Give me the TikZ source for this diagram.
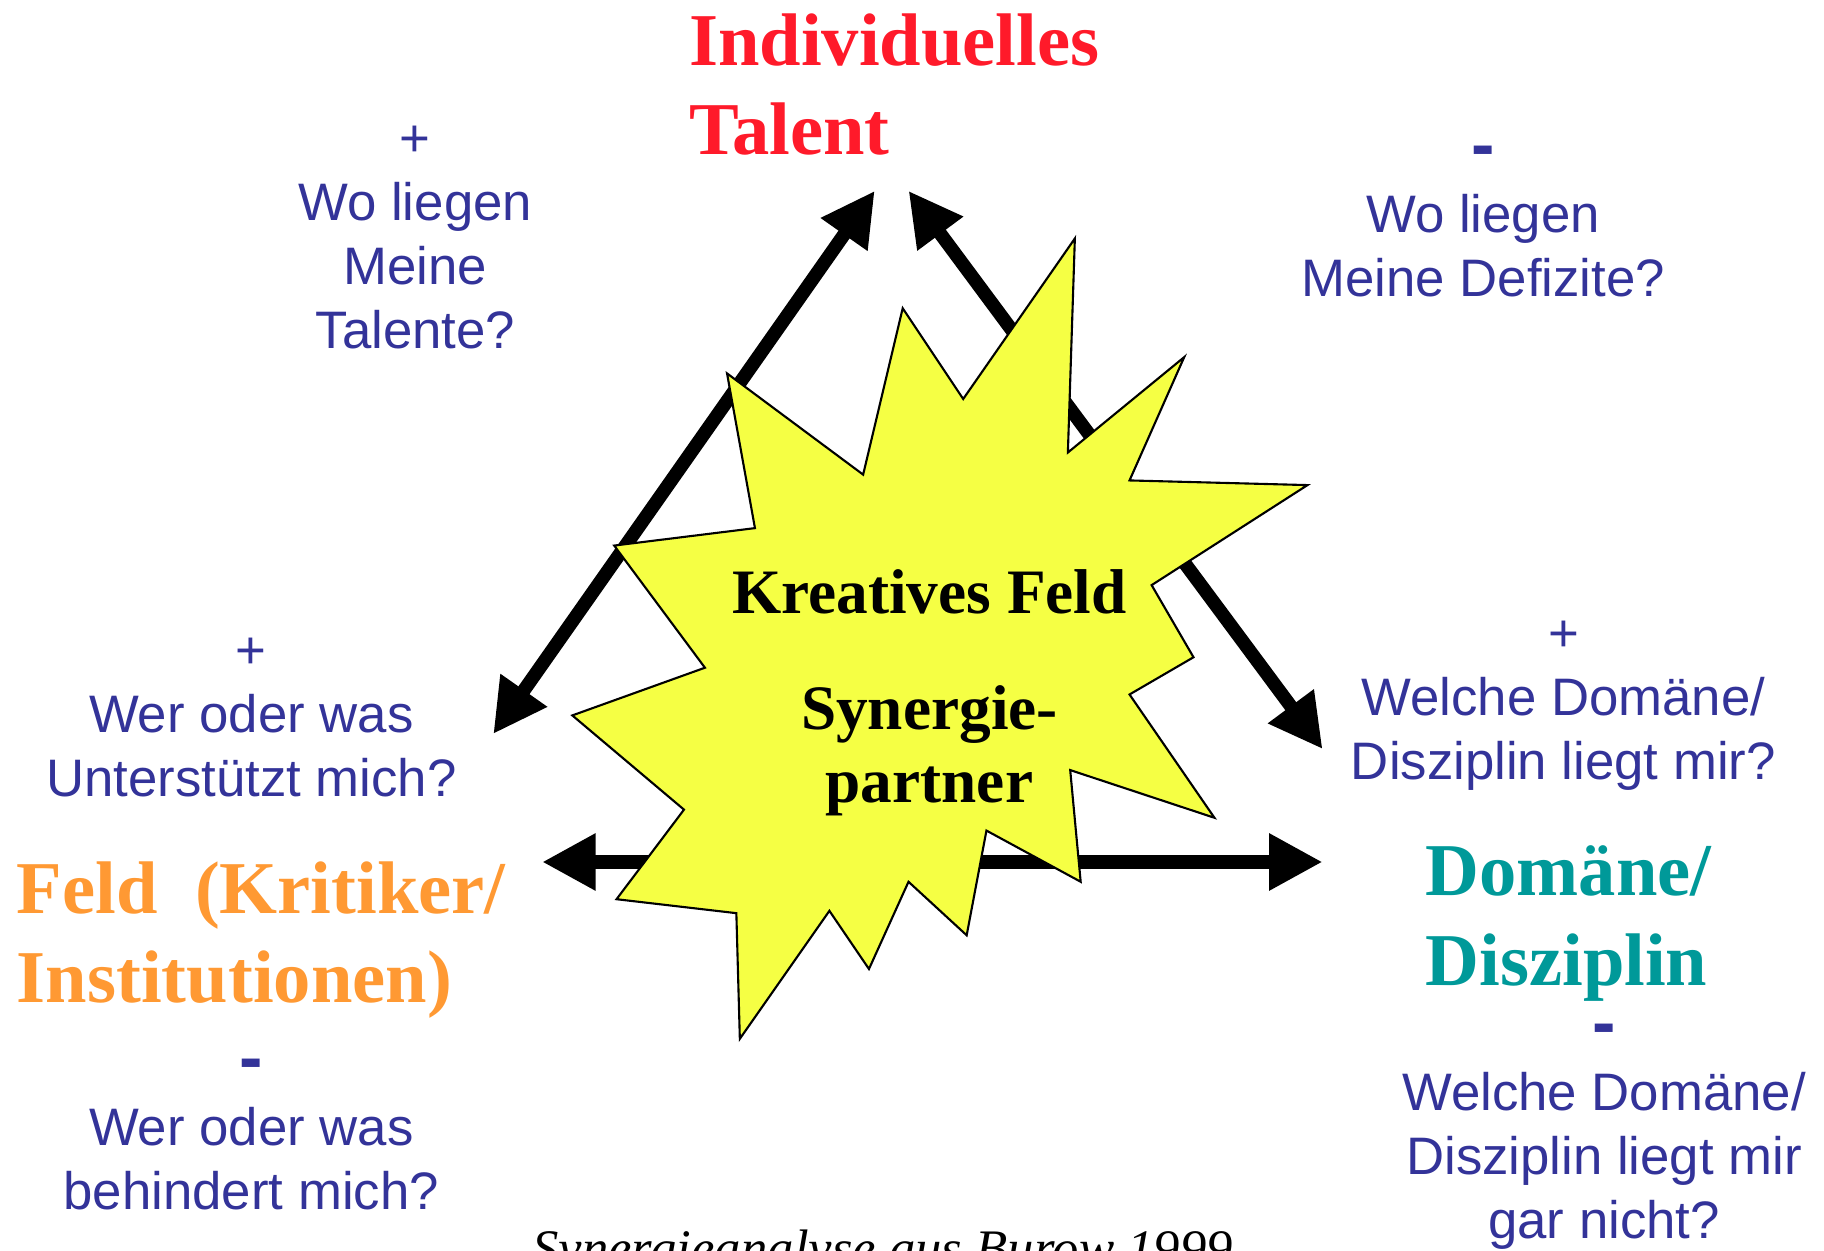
\documentclass[tikz,border=0pt]{standalone}
\usepackage{fontspec}
\setmainfont{Liberation Serif}
\newfontfamily\arialfont{Liberation Sans}
\usetikzlibrary{arrows.meta}

\definecolor{talentred}{RGB}{255,26,42}
\definecolor{feldorange}{RGB}{255,153,51}
\definecolor{domaeneteal}{RGB}{0,153,153}
\definecolor{frageblue}{RGB}{51,51,153}
\definecolor{staryellow}{RGB}{245,255,68}
\newcommand{\strich}{{\bfseries\fontsize{20}{18.2}\selectfont -}}

\begin{document}
\begin{tikzpicture}[x=0.011633cm, y=-0.011633cm,
	frage/.style={color=frageblue, align=center, anchor=base, inner sep=0pt, font=\arialfont\fontsize{15}{18.2}\selectfont},
	ecke/.style={anchor=base west, align=left, inner sep=0pt, font=\bfseries\fontsize{21.2}{25.5}\selectfont},
	dick/.style={line width=3.85pt, {Triangle[length=15.2pt,width=15.2pt]}-{Triangle[length=15.2pt,width=15.2pt]}}]
	\useasboundingbox (0,0) rectangle (1568,1075);
	% arrow ends
	\coordinate (talentlinks) at (752,164);
	\coordinate (talentrechts) at (781,164);
	\coordinate (feldoben) at (424,631);
	\coordinate (feldrechts) at (466,741);
	\coordinate (domaeneoben) at (1137,644);
	\coordinate (domaenelinks) at (1137,741);
	\draw[dick] (talentlinks) -- (feldoben);
	\draw[dick] (talentrechts) -- (domaeneoben);
	\draw[dick] (feldrechts) -- (domaenelinks);
	% star
	\draw[fill=staryellow, line width=0.6pt] (924,205) -- (918,389) -- (1018,307) -- (971,413)
		-- (1124,417) -- (990,503) -- (1026,565) -- (971,597) -- (1044,703) -- (920,662)
		-- (929,758) -- (848,714) -- (831,804) -- (781,758) -- (747,833) -- (713,783)
		-- (636,893) -- (633,785) -- (530,773) -- (588,696) -- (492,615) -- (606,574)
		-- (528,469) -- (649,454) -- (625,321) -- (742,408) -- (776,265) -- (828,343) -- cycle;
	\node[align=center, anchor=base, inner sep=0pt, font=\bfseries\fontsize{18}{20.85}\selectfont] (kreativ) at (799,690) {Kreatives Feld\\[12.2pt]Synergie-\\partner};
	% corners (base = last line)
	\node[ecke, color=talentred] (talent) at (592,133) {Individuelles\\Talent};
	\node[ecke, color=feldorange] (feld) at (14,862) {Feld~~(Kritiker/\\Institutionen)};
	\node[ecke, color=domaeneteal] (domaene) at (1225,847) {Domäne/\\Disziplin};
	% questions
	\node[frage] (talentplus) at (357,300) {+\\Wo liegen\\Meine\\Talente?};
	\node[frage] (talentminus) at (1275,255) {\strich\\Wo liegen\\Meine Defizite?};
	\node[frage] (feldplus) at (216,685) {+\\Wer oder was\\Unterstützt mich?};
	\node[frage] (feldminus) at (216,1040) {\strich\\Wer oder was\\behindert mich?};
	\node[frage] (domaeneplus) at (1344,670) {+\\Welche Domäne/\\Disziplin liegt mir?};
	\node[frage] (domaeneminus) at (1379,1065) {\strich\\Welche Domäne/\\Disziplin liegt mir\\gar nicht?};
	\node[anchor=base west, inner sep=0pt, font=\itshape\fontsize{15}{18}\selectfont] (quelle) at (457,1089) {Synergieanalyse aus Burow 1999};
\end{tikzpicture}
\end{document}
